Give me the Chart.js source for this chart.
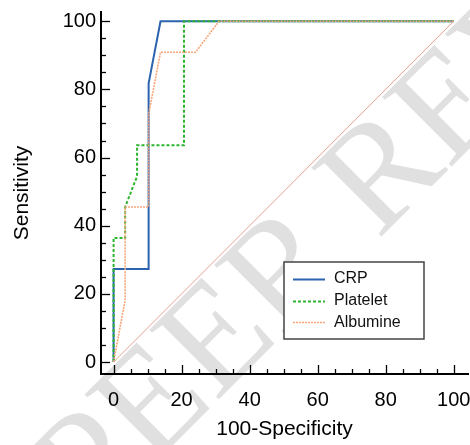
<!DOCTYPE html>
<html>
<head>
<meta charset="utf-8">
<script src="https://cdn.jsdelivr.net/npm/chart.js@4.4.1/dist/chart.umd.min.js"></script>
<style>
html,body{margin:0;padding:0;background:#fff;}
canvas{display:block;}
</style>
</head>
<body>
<canvas id="c" width="470" height="445"></canvas>
<script>
// ---- data ----
const seriesNames = ['CRP', 'Platelet', 'Albumine'];
const crpX = [0, 0, 10.3, 10.3, 13.8, 100];
const crpY = [0, 27.3, 27.3, 81.8, 100, 100];
const plateletX = [0, 0, 3.4, 3.4, 6.9, 6.9, 20.7, 20.7, 100];
const plateletY = [0, 36.4, 36.4, 45.5, 54.5, 63.6, 63.6, 100, 100];
const albumineX = [0, 3.4, 3.4, 10.3, 10.3, 13.8, 24.1, 31.0, 100];
const albumineY = [0, 18.2, 45.5, 45.5, 72.7, 90.9, 90.9, 100, 100];
const refX = [0, 100];
const refY = [0, 100];
const tickValues = [0, 20, 40, 60, 80, 100];
const xTitle = '100-Specificity';
const yTitle = 'Sensitivity';
const watermark = 'PEER REVIEW';

const pts = (xs, ys) => xs.map((x, i) => ({x: x, y: ys[i]}));

const FONT = "'Liberation Sans', Arial, sans-serif";

const inwardTicks = {
  id: 'inwardTicks',
  afterDraw(chart) {
    const ctx = chart.ctx, xs = chart.scales.x, ys = chart.scales.y, a = chart.chartArea;
    ctx.save();
    ctx.strokeStyle = '#000';
    ctx.lineWidth = 1.3;
    for (let v = 0; v <= 100; v += 5) {
      const len = v % 20 === 0 ? 9 : 5;
      const px = Math.round(xs.getPixelForValue(v)) + 0.5;
      ctx.beginPath(); ctx.moveTo(px, a.bottom); ctx.lineTo(px, a.bottom - len); ctx.stroke();
      const py = Math.round(ys.getPixelForValue(v)) + 0.5;
      ctx.beginPath(); ctx.moveTo(a.left, py); ctx.lineTo(a.left + len, py); ctx.stroke();
    }
    ctx.restore();
  }
};

const watermarkPlugin = {
  id: 'watermark',
  beforeDraw(chart) {
    const ctx = chart.ctx;
    ctx.save();
    ctx.translate(92, 526);
    ctx.rotate(-Math.PI / 4);
    ctx.font = "150px 'Liberation Serif', 'Times New Roman', serif";
    ctx.fillStyle = '#e0e0e0';
    ctx.textBaseline = 'alphabetic';
    ctx.fillText(watermark, 0, 0);
    ctx.restore();
  }
};

const legendPlugin = {
  id: 'boxLegend',
  afterDatasetsDraw(chart) {
    const ctx = chart.ctx;
    const bx = 284, by = 262, bw = 140, bh = 77;
    ctx.save();
    ctx.fillStyle = '#fff';
    ctx.fillRect(bx, by, bw, bh);
    ctx.strokeStyle = '#444';
    ctx.lineWidth = 1.5;
    ctx.strokeRect(bx, by, bw, bh);
    ctx.font = '16px ' + FONT;
    ctx.textBaseline = 'middle';
    ctx.textAlign = 'left';
    for (let i = 0; i < seriesNames.length; i++) {
      const ds = chart.data.datasets[i];
      const y = by + 17 + i * 21.7;
      ctx.strokeStyle = ds.borderColor;
      ctx.lineWidth = ds.borderWidth;
      ctx.setLineDash(ds.borderDash || []);
      ctx.beginPath(); ctx.moveTo(293, Math.round(y) + 0.5); ctx.lineTo(325, Math.round(y) + 0.5); ctx.stroke();
      ctx.setLineDash([]);
      ctx.fillStyle = '#111';
      ctx.fillText(ds.label, 334, y);
    }
    ctx.restore();
  }
};

const zeroPad = (s) => { s.paddingLeft = 0; s.paddingRight = 0; s.paddingTop = 0; s.paddingBottom = 0; };

new Chart(document.getElementById('c'), {
  type: 'scatter',
  data: {
    datasets: [
      {label: seriesNames[0], data: pts(crpX, crpY), showLine: true, borderColor: '#2c63ae', borderWidth: 2, pointRadius: 0, order: 4},
      {label: seriesNames[1], data: pts(plateletX, plateletY), showLine: true, borderColor: '#2db52d', borderWidth: 2, borderDash: [3, 2], pointRadius: 0, order: 3},
      {label: seriesNames[2], data: pts(albumineX, albumineY), showLine: true, borderColor: '#f8a679', borderWidth: 1.6, borderDash: [2, 1], pointRadius: 0, order: 2},
      {label: 'ref', data: pts(refX, refY), showLine: true, borderColor: '#e5a090', borderWidth: 1, pointRadius: 0, order: 1}
    ]
  },
  options: {
    responsive: false,
    animation: false,
    devicePixelRatio: 1,
    layout: {padding: {top: 12, right: 2, left: 0, bottom: 0}},
    plugins: {legend: {display: false}, tooltip: {enabled: false}},
    scales: {
      x: {
        type: 'linear', min: -3.7, max: 104.2,
        afterBuildTicks: (s) => { s.ticks = tickValues.map(v => ({value: v})); },
        afterFit: (s) => { s.height = 71; zeroPad(s); },
        grid: {display: false, drawTicks: false},
        border: {display: true, color: '#000', width: 2},
        ticks: {color: '#000', font: {family: FONT, size: 20}, padding: 14, maxRotation: 0, autoSkip: false},
        title: {display: true, text: xTitle, color: '#000', font: {family: FONT, size: 21}, padding: {top: 0, bottom: 3}}
      },
      y: {
        type: 'linear', min: -3.5, max: 102.7,
        afterBuildTicks: (s) => { s.ticks = tickValues.map(v => ({value: v})); },
        afterFit: (s) => { s.width = 101; zeroPad(s); },
        grid: {display: false, drawTicks: false},
        border: {display: true, color: '#000', width: 2},
        ticks: {color: '#000', font: {family: FONT, size: 20}, padding: 5, autoSkip: false},
        title: {display: true, text: yTitle, color: '#000', font: {family: FONT, size: 21}, padding: {top: 10, bottom: 0}}
      }
    }
  },
  plugins: [watermarkPlugin, inwardTicks, legendPlugin]
});
</script>
</body>
</html>
